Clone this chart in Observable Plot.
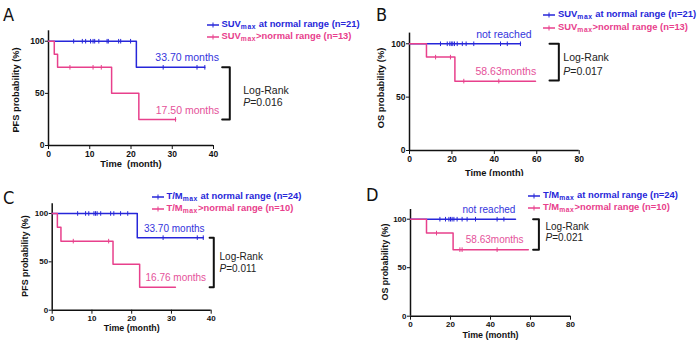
<!DOCTYPE html>
<html><head><meta charset="utf-8">
<script src="https://cdn.jsdelivr.net/npm/d3@7"></script>
<script src="https://cdn.jsdelivr.net/npm/@observablehq/plot@0.6"></script>
<style>
body{margin:0;background:#fff;}
#fig{position:relative;width:700px;height:346px;overflow:hidden;background:#fff;font-family:"Liberation Sans",Arial,sans-serif;}
.panel{position:absolute;}
.panel svg{background:transparent;}
.letter{position:absolute;font-family:"Liberation Sans Narrow","DejaVu Sans Condensed",sans-serif;font-size:18px;line-height:1;color:#111;}
.leg{position:absolute;display:flex;align-items:center;height:12px;font-weight:bold;white-space:nowrap;line-height:1;}
.leg sub{font-size:0.72em;letter-spacing:0.6px;vertical-align:-2px;line-height:1;}
.leg svg{margin-right:3px;}
.ylab{position:absolute;font-weight:bold;white-space:nowrap;color:#111;line-height:1;transform:translate(-50%,-50%) rotate(-90deg);}
</style>
</head><body>
<div id="fig"></div>
<script>
// ---------- data ----------
const xTicksPFS = [0, 10, 20, 30, 40];
const xTicksOS = [0, 20, 40, 60, 80];
const yTicks = [0, 50, 100];
const BLUE = "#2626d9", PINK = "#e8408c";

// Panel A: PFS by SUVmax
const aBlueTime = [0, 21.3, 37.9];
const aBlueSurv = [100, 75, 75];
const aBlueCensor = [6.1, 8.2, 9, 10.2, 10.8, 11.2, 12.2, 14.2, 14.5, 17, 17.5, 19.9, 27.8, 36, 37.9];
const aPinkTime = [0, 1.4, 2.2, 15.3, 21.9, 30.8];
const aPinkSurv = [100, 87.5, 75, 50, 25, 25];
const aPinkCensor = [5.2, 10.8, 12.8, 30.8];

// Panel B: OS by SUVmax
const bBlueTime = [0, 52.3];
const bBlueSurv = [100, 100];
const bBlueCensor = [14.6, 17.8, 19, 19.7, 20.4, 21.2, 22.5, 24.9, 26.7, 30.3, 42.9, 46.1, 52.3];
const bPinkTime = [0, 8, 21.4, 59.4];
const bPinkSurv = [100, 87.5, 65, 65];
const bPinkCensor = [12.3, 19.3, 25.6, 42.1];

// Panel C: PFS by T/Mmax
const cBlueTime = [0, 21.4, 38];
const cBlueSurv = [100, 75, 75];
const cBlueCensor = [6.4, 8.4, 9.2, 10.5, 10.9, 11.3, 12.2, 14.7, 15.5, 17.2, 19, 27.9, 36.5, 38];
const cPinkTime = [0, 1.3, 2.2, 15.3, 22, 31];
const cPinkSurv = [100, 85.7, 71.4, 47.6, 23.8, 23.8];
const cPinkCensor = [5.3, 14.2];

// Panel D: OS by T/Mmax
const dBlueTime = [0, 52.5];
const dBlueSurv = [100, 100];
const dBlueCensor = [14.7, 17.5, 19.2, 20, 20.8, 21.7, 23.3, 25.8, 28.3, 32.5, 43.3, 46.7];
const dPinkTime = [0, 8, 21.3, 58.9];
const dPinkSurv = [100, 85.7, 68.6, 68.6];
const dPinkCensor = [13, 24.7, 25.8, 43.3];

const legendSUV = ["SUV<sub>max</sub> at normal range (n=21)", "SUV<sub>max</sub>&gt;normal range (n=13)"];
const legendTM = ["T/M<sub>max</sub> at normal range (n=24)", "T/M<sub>max</sub>&gt;normal range (n=10)"];
const medianLabels = {A: ["33.70 months", "17.50 months"], B: ["not reached", "58.63months"], C: ["33.70 months", "16.76 months"], D: ["not reached", "58.63months"]};
const pValues = {A: "=0.016", B: "=0.017", C: "=0.011", D: "=0.021"};
const yTitles = {PFS: "PFS probability (%)", OS: "OS probability (%)"};

// ---------- helpers ----------
const fig = document.getElementById("fig");
const tickSym = {draw(ctx, size) { const r = Math.sqrt(size / Math.PI); ctx.moveTo(0, -r); ctx.lineTo(0, r); }};
function survAt(times, surv, t) { let s = surv[0]; for (let i = 0; i < times.length; i++) if (times[i] <= t) s = surv[i]; return s; }
function curveMarks(times, surv, censor, color) {
  const pts = times.map((t, i) => ({t, s: surv[i]}));
  const cs = censor.map(t => ({t, s: survAt(times, surv, t)}));
  return [
    Plot.line(pts, {x: "t", y: "s", curve: "step-after", stroke: color, strokeWidth: 1.5}),
    Plot.dot(cs, {x: "t", y: "s", symbol: tickSym, r: 2.3, stroke: color, strokeWidth: 1, fill: "none"})
  ];
}

function panel(o) {
  const fs = o.fs;
  const txt = (d, opts) => Plot.text([d], {x: "t", y: "v", text: "label", fontSize: fs, fontWeight: "normal", ...opts});
  const chart = Plot.plot({
    width: 350, height: o.height,
    marginLeft: o.ml, marginRight: o.mr, marginTop: o.mt, marginBottom: o.mb,
    style: {fontFamily: "Liberation Sans, Arial, sans-serif", fontSize: o.tfs + "px", fontWeight: "bold", background: "transparent", color: "#111"},
    x: {domain: [0, o.xmax], ticks: o.xticks, tickSize: 4, tickPadding: 1, label: null, tickFormat: d => d},
    y: {domain: [0, 110], ticks: yTicks, tickSize: 3, tickPadding: 1, label: null},
    marks: [
      Plot.ruleX([0], {y1: 0, y2: 110, stroke: "#111", strokeWidth: 1.5}),
      Plot.ruleY([0], {x1: 0, x2: o.xmax, stroke: "#111", strokeWidth: 1.5}),
      ...curveMarks(o.s1[0], o.s1[1], o.s1[2], BLUE),
      ...curveMarks(o.s2[0], o.s2[1], o.s2[2], PINK),
      txt({t: o.m1[0], v: o.m1[1], label: o.labels[0]}, {fill: "#3434dc", textAnchor: "middle"}),
      txt({t: o.m2[0], v: o.m2[1], label: o.labels[1]}, {fill: "#e5529a", textAnchor: "middle"}),
      Plot.line([[o.br[0], o.br[2]], [o.br[1], o.br[2]], [o.br[1], o.br[3]], [o.br[0], o.br[3]]], {stroke: "#111", strokeWidth: 2}),
      txt({t: o.lr[0], v: o.lr[1], label: "Log-Rank"}, {fill: "#222", textAnchor: "start"}),
      txt({t: o.lr[0], v: o.lr[2], label: "P"}, {fill: "#222", textAnchor: "start", fontStyle: "italic"}),
      txt({t: o.lr[0], v: o.lr[2], label: o.p}, {fill: "#222", textAnchor: "start", dx: fs * 0.667}),
      Plot.text([o.xlabel], {frameAnchor: "bottom", dy: o.xdy, fontSize: o.lfs, fontWeight: "bold", fill: "#111"})
    ]
  });
  const div = document.createElement("div");
  div.className = "panel";
  div.style.left = o.left + "px"; div.style.top = o.top + "px";
  div.appendChild(chart);
  fig.appendChild(div);
  const yl = document.createElement("div");
  yl.className = "ylab";
  yl.style.left = o.ylab[0] + "px"; yl.style.top = o.ylab[1] + "px"; yl.style.fontSize = o.lfs + "px";
  yl.textContent = o.ylabel;
  fig.appendChild(yl);
}

function legendRow(x, y, color, html, size) {
  const d = document.createElement("div");
  d.className = "leg";
  d.style.left = x + "px"; d.style.top = (y - 6) + "px"; d.style.color = color; d.style.fontSize = size + "px";
  d.innerHTML = `<svg width="12" height="8"><line x1="0" y1="4" x2="12" y2="4" stroke="${color}" stroke-width="1.5"/><line x1="6" y1="1.5" x2="6" y2="6.5" stroke="${color}" stroke-width="1"/></svg><span>${html}</span>`;
  fig.appendChild(d);
}
function letter(x, y, ch) {
  const d = document.createElement("div");
  d.className = "letter"; d.style.left = x + "px"; d.style.top = y + "px"; d.textContent = ch;
  fig.appendChild(d);
}

// ---------- panels ----------
panel({left: 0, top: 0, height: 173, ml: 48, mr: 137, mt: 30.3, mb: 28, xmax: 40, xticks: xTicksPFS, fs: 10.5, tfs: 8.5, lfs: 9.3,
  s1: [aBlueTime, aBlueSurv, aBlueCensor], s2: [aPinkTime, aPinkSurv, aPinkCensor],
  labels: medianLabels.A, m1: [33.6, 84.7], m2: [33.7, 33.6], br: [42.1, 43.95, 75, 25], lr: [47.2, 52.7, 41.5], p: pValues.A,
  xlabel: "Time  (month)", xdy: 21, ylabel: yTitles.PFS, ylab: [16.7, 90]});
panel({left: 350, top: 0, height: 176, ml: 59, mr: 121.3, mt: 32.6, mb: 26, xmax: 80, xticks: xTicksOS, fs: 10.5, tfs: 8.5, lfs: 9.3,
  s1: [bBlueTime, bBlueSurv, bBlueCensor], s2: [bPinkTime, bPinkSurv, bPinkCensor],
  labels: medianLabels.B, m1: [44.5, 108.7], m2: [45.4, 74.3], br: [66, 70.4, 100, 65.5], lr: [72.5, 86.9, 74.3], p: pValues.B,
  xlabel: "Time (month)", xdy: 25, ylabel: yTitles.OS, ylab: [381.7, 88]});
panel({left: 0, top: 173, height: 173, ml: 51.7, mr: 139.3, mt: 30.3, mb: 36.3, xmax: 40, xticks: xTicksPFS, fs: 10, tfs: 8, lfs: 8.9,
  s1: [cBlueTime, cBlueSurv, cBlueCensor], s2: [cPinkTime, cPinkSurv, cPinkCensor],
  labels: medianLabels.C, m1: [30.7, 84.5], m2: [31.1, 33.5], br: [39.6, 40.65, 75, 23.8], lr: [42.1, 55.2, 43.1], p: pValues.C,
  xlabel: "Time (month)", xdy: 20.5, ylabel: yTitles.PFS, ylab: [25, 255.5]});
panel({left: 350, top: 173, height: 173, ml: 60, mr: 130, mt: 36, mb: 30.3, xmax: 80, xticks: xTicksOS, fs: 10, tfs: 8, lfs: 8.9,
  s1: [dBlueTime, dBlueSurv, dBlueCensor], s2: [dPinkTime, dPinkSurv, dPinkCensor],
  labels: medianLabels.D, m1: [39.2, 110], m2: [42.1, 78.4], br: [61.3, 64.2, 100, 68.6], lr: [67.5, 92.2, 81.1], p: pValues.D,
  xlabel: "Time (month)", xdy: 21.5, ylabel: yTitles.OS, ylab: [385, 262]});

// ---------- legends & letters ----------
legendRow(206.5, 25, BLUE, legendSUV[0], 9.4);
legendRow(206.5, 37, PINK, legendSUV[1], 9.4);
legendRow(543, 15, BLUE, legendSUV[0], 9.4);
legendRow(543, 28, PINK, legendSUV[1], 9.4);
legendRow(151.5, 197, BLUE, legendTM[0], 9.4);
legendRow(151.5, 209, PINK, legendTM[1], 9.4);
legendRow(528, 196, BLUE, legendTM[0], 9.4);
legendRow(528, 208, PINK, legendTM[1], 9.4);
letter(3, 6, "A"); letter(376, 6, "B"); letter(3, 189, "C"); letter(366, 186, "D");
</script>
</body></html>
